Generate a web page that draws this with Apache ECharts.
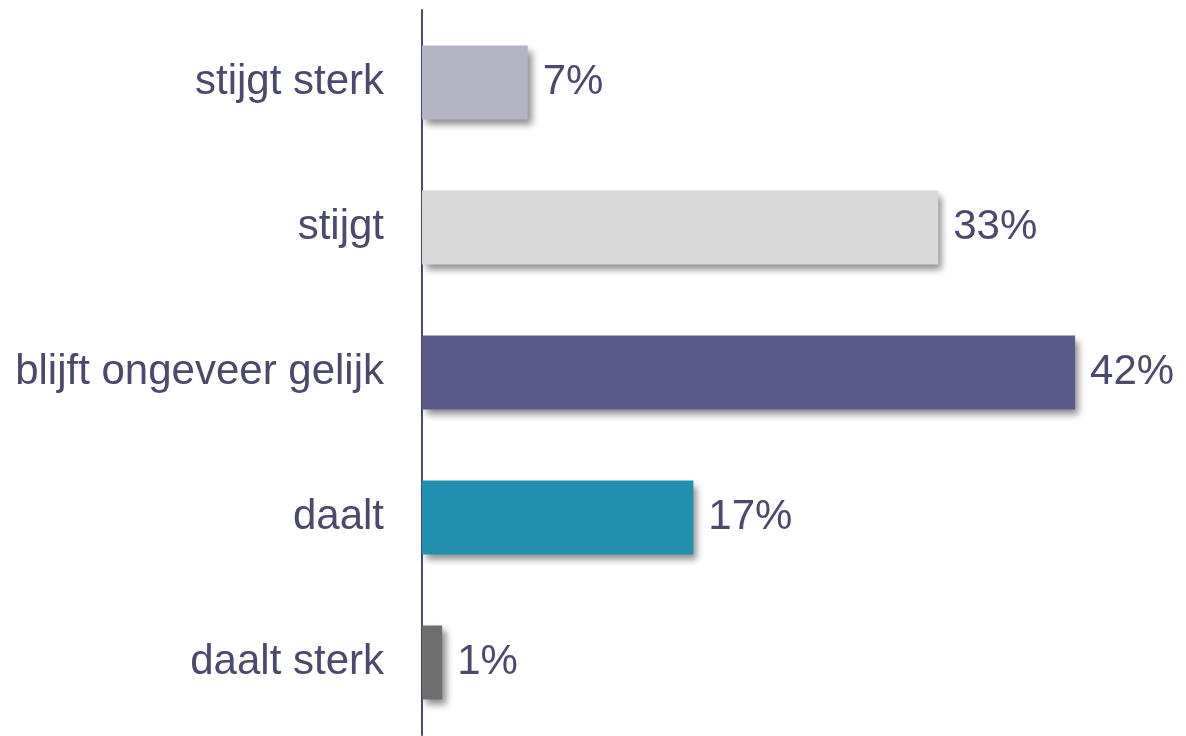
<!DOCTYPE html>
<html>
<head>
<meta charset="utf-8">
<script src="https://cdn.jsdelivr.net/npm/echarts@6/dist/echarts.min.js"></script>
<style>
	html, body { margin: 0; padding: 0; background: #ffffff; }
	#chart { width: 1186px; height: 736px; }
</style>
</head>
<body>
<div id="chart"></div>
<script>
	// antwoordcategorieen en geschatte percentages
	var categories = ['stijgt sterk', 'stijgt', 'blijft ongeveer gelijk', 'daalt', 'daalt sterk'];
	var values = [6.8, 33.2, 42.0, 17.45, 1.3];
	var colors = ['#b4b4c4', '#d9d9d9', '#5a5a8a', '#2090ae', '#6e6e6e'];

	var chart = echarts.init(document.getElementById('chart'));
	var option = {
		animation: false,
		grid: { left: 422, right: 17.6, top: 10, bottom: 1 },
		xAxis: {
			type: 'value',
			min: 0,
			max: 48,
			show: false
		},
		yAxis: {
			type: 'category',
			inverse: true,
			data: categories,
			axisTick: { show: false },
			axisLine: { lineStyle: { color: '#4a4a72', width: 2 } },
			axisLabel: {
				margin: 38,
				padding: [4, 0, 0, 0],
				fontFamily: 'Liberation Sans, Arial, sans-serif',
				fontSize: 42,
				color: '#4a4a6e'
			}
		},
		series: [{
			type: 'bar',
			barWidth: 74,
			data: values.map(function (v, i) {
				return { value: v, itemStyle: { color: colors[i] } };
			}),
			itemStyle: {
				shadowColor: 'rgba(0,0,0,0.45)',
				shadowBlur: 7,
				shadowOffsetX: 4,
				shadowOffsetY: 5
			},
			label: {
				show: true,
				position: 'right',
				distance: 15,
				padding: [4, 0, 0, 0],
				fontFamily: 'Liberation Sans, Arial, sans-serif',
				fontSize: 42,
				color: '#4a4a6e',
				formatter: function (p) { return Math.round(p.value) + '%'; }
			}
		}]
	};
	chart.setOption(option);
</script>
</body>
</html>
